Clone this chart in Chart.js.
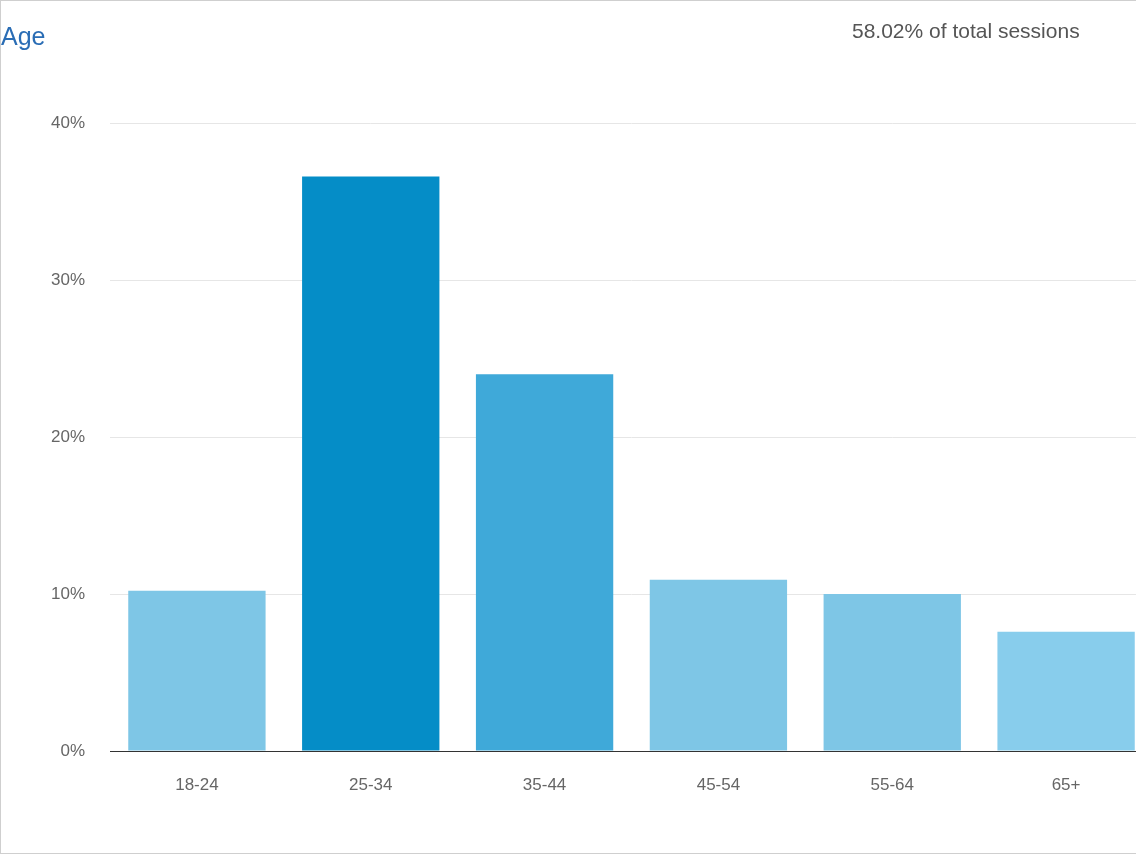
<!DOCTYPE html>
<html><head><meta charset="utf-8">
<script src="https://cdn.jsdelivr.net/npm/chart.js@4"></script>
<style>
html,body{margin:0;padding:0;overflow:hidden;background:#fff;width:1136px;height:854px;font-family:Arial,"Liberation Sans",sans-serif}
#frame{position:absolute;left:0;top:0;width:1180px;height:852px;border:1px solid #cfcfcf}
#wrap{position:absolute;left:0;top:0;width:1160px;height:854px}
#title{position:absolute;left:1px;top:22px;font-size:25px;color:#2a6db5}
#sub{position:absolute;left:852px;top:19px;font-size:21px;color:#555;white-space:nowrap}
</style></head><body>
<div id="frame"></div>
<div id="wrap"><canvas id="c" width="1160" height="854"></canvas></div>
<div id="title">Age</div>
<div id="sub">58.02% of total sessions</div>
<script>
const categories = ["18-24","25-34","35-44","45-54","55-64","65+"];
const values = [10.2, 36.6, 24.0, 10.9, 10.0, 7.6];
const colors = ["#7ec6e6","#058dc7","#3fa9d9","#7ec6e6","#7ec6e6","#88cdec"];
const yTicks = [0,10,20,30,40];
new Chart(document.getElementById('c'), {
  type:'bar',
  data:{labels:categories, datasets:[{data:values, backgroundColor:colors, barPercentage:0.79, categoryPercentage:1}]},
  options:{
    responsive:false, animation:false, devicePixelRatio:1,
    layout:{padding:{top:123,right:7,left:0,bottom:0}},
    plugins:{legend:{display:false},tooltip:{enabled:false}},
    scales:{
      x:{grid:{display:false}, border:{color:'#333',width:1},
         ticks:{color:'#666',font:{size:17,family:'Arial, Liberation Sans'},padding:16},
         afterFit:s=>{s.height=103;}},
      y:{min:0,max:40,border:{display:false},
         grid:{color:c=>c.tick&&c.tick.value===0?'#333':'#e6e6e6',drawTicks:false},
         afterBuildTicks:s=>{s.ticks=yTicks.map(v=>({value:v}));},
         ticks:{color:'#666',font:{size:17,family:'Arial, Liberation Sans'},padding:25,callback:v=>v+'%'},
         afterFit:s=>{s.width=110;}}
    }
  }
});
</script>
</body></html>
